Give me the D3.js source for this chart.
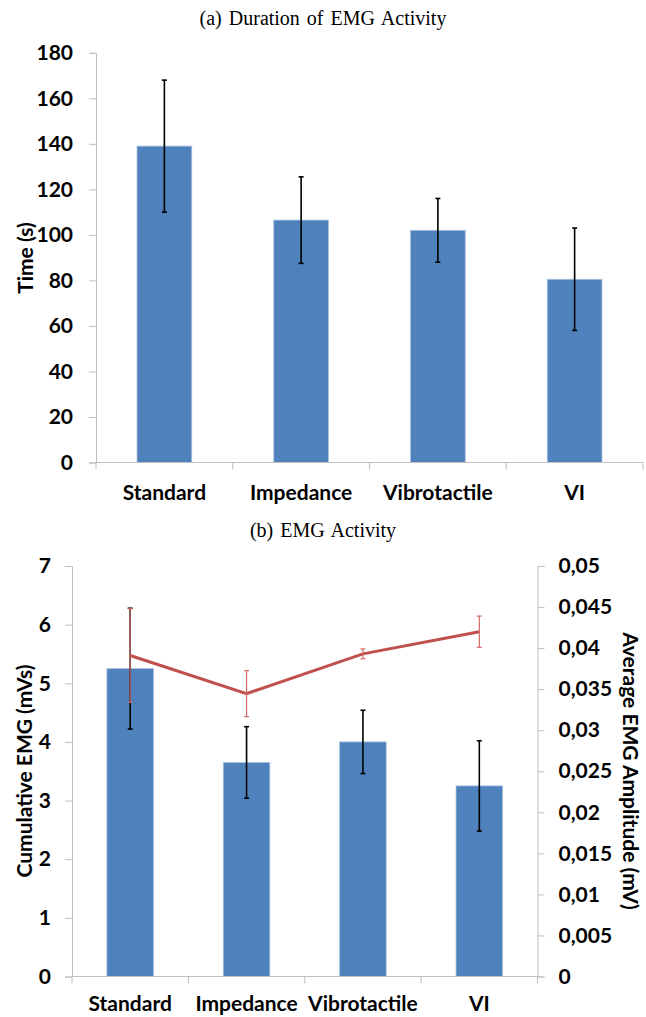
<!doctype html>
<html lang="en">
<head>
<meta charset="utf-8">
<title>EMG Activity</title>
<script src="https://cdn.jsdelivr.net/npm/d3@7"></script>
<style>
  body { margin: 0; background: #fff; }
  .caption { font-family: "Liberation Serif", "DejaVu Serif", serif; font-size: 20px; word-spacing: 2px; }
  .lbl { font-family: Lato, "Open Sans", sans-serif; font-weight: bold; font-size: 21px; fill: #000; }
  .axis path, .axis line { stroke: #bfbfbf; }
</style>
</head>
<body>
<script>
// data
var categories = ["Standard", "Impedance", "Vibrotactile", "VI"];

var durationMean = [139, 106.5, 102, 80.5];
var durationErr  = [29, 19, 14, 22.5];
var durationTicks = [0, 20, 40, 60, 80, 100, 120, 140, 160, 180];

var cumMean = [5.25, 3.65, 4.0, 3.25];
var cumErr  = [1.03, 0.61, 0.54, 0.77];
var cumTicks = [0, 1, 2, 3, 4, 5, 6, 7];

var ampMean = [0.0391, 0.03445, 0.0393, 0.0420];
var ampErr  = [0.0057, 0.0028, 0.0006, 0.0019];
var ampTicks = [0, 0.005, 0.01, 0.015, 0.02, 0.025, 0.03, 0.035, 0.04, 0.045, 0.05];

var blue = "#4f81bd", red = "#c0504d";

var svg = d3.select("body").append("svg")
    .attr("width", 646).attr("height", 1017);

function comma(v) { return String(+v.toFixed(4)).replace(".", ","); }

function errorBars(g, x, y, means, errs, color, width, cap) {
    var e = g.append("g").selectAll("g").data(means).enter().append("g")
        .attr("stroke", color).attr("stroke-width", width);
    e.append("line")
        .attr("x1", function(d, i){ return x(categories[i]) + x.bandwidth()/2; })
        .attr("x2", function(d, i){ return x(categories[i]) + x.bandwidth()/2; })
        .attr("y1", function(d, i){ return y(d + errs[i]); })
        .attr("y2", function(d, i){ return y(d - errs[i]); });
    [1, -1].forEach(function(s){
        e.append("line")
            .attr("x1", function(d, i){ return x(categories[i]) + x.bandwidth()/2 - cap; })
            .attr("x2", function(d, i){ return x(categories[i]) + x.bandwidth()/2 + cap; })
            .attr("y1", function(d, i){ return y(d + s*errs[i]); })
            .attr("y2", function(d, i){ return y(d + s*errs[i]); });
    });
}

function bars(g, x, y, means) {
    var bw = x.bandwidth() * 0.4;
    g.append("g").selectAll("rect").data(means).enter().append("rect")
        .attr("x", function(d, i){ return x(categories[i]) + (x.bandwidth() - bw)/2; })
        .attr("y", function(d){ return y(d); })
        .attr("width", bw)
        .attr("height", function(d){ return y(0) - y(d); })
        .attr("fill", blue)
        .attr("stroke", "#a7c0de").attr("stroke-width", 0.8);
}

function xAxis(g, x, y0, labelY) {
    var ax = g.append("g").attr("class", "axis");
    ax.append("line").attr("x1", x.range()[0]).attr("x2", x.range()[1])
        .attr("y1", y0).attr("y2", y0);
    ax.selectAll("line.t").data(d3.range(categories.length + 1)).enter().append("line")
        .attr("class", "t")
        .attr("x1", function(i){ return x.range()[0] + i * x.step(); })
        .attr("x2", function(i){ return x.range()[0] + i * x.step(); })
        .attr("y1", y0).attr("y2", y0 + 7);
    g.append("g").selectAll("text").data(categories).enter().append("text")
        .attr("class", "lbl")
        .attr("x", function(d){ return x(d) + x.bandwidth()/2; })
        .attr("y", labelY)
        .attr("text-anchor", "middle")
        .text(function(d){ return d; });
}

function styleAxis(sel) {
    sel.attr("class", "axis")
        .attr("font-family", "Lato, 'Open Sans', sans-serif")
        .attr("font-weight", "bold").attr("font-size", 21);
    sel.select(".domain").attr("stroke", "#bfbfbf");
    sel.selectAll(".tick line").attr("stroke", "#bfbfbf");
    sel.selectAll(".tick text").attr("class", "lbl").attr("font-weight", "bold");
}

// ---------- (a) Duration of EMG Activity ----------
svg.append("text").attr("class", "caption")
    .attr("x", 323).attr("y", 25).attr("text-anchor", "middle")
    .text("(a) Duration of EMG Activity");

var xa = d3.scaleBand().domain(categories).range([96, 643]);
var ya = d3.scaleLinear().domain([0, 180]).range([462.5, 52.8]);

var ga = svg.append("g");
bars(ga, xa, ya, durationMean);
errorBars(ga, xa, ya, durationMean, durationErr, "#000", 1.6, 2.5);

ga.append("g").attr("transform", "translate(96,0)")
    .call(d3.axisLeft(ya).tickValues(durationTicks).tickFormat(d3.format("d")).tickSize(7).tickPadding(16))
    .call(styleAxis);
xAxis(ga, xa, 462.5, 500);

ga.append("text").attr("class", "lbl").attr("font-weight", "bold")
    .attr("transform", "translate(33,258) rotate(-90)")
    .attr("text-anchor", "middle").text("Time (s)");

// ---------- (b) EMG Activity ----------
svg.append("text").attr("class", "caption")
    .attr("x", 323).attr("y", 537).attr("text-anchor", "middle")
    .text("(b) EMG Activity");

var xb = d3.scaleBand().domain(categories).range([72, 537.5]);
var yb = d3.scaleLinear().domain([0, 7]).range([976.5, 566]);
var yr = d3.scaleLinear().domain([0, 0.05]).range([976.5, 566]);

var gb = svg.append("g");
bars(gb, xb, yb, cumMean);
errorBars(gb, xb, yb, cumMean, cumErr, "#000", 1.6, 2.5);

var line = d3.line()
    .x(function(d, i){ return xb(categories[i]) + xb.bandwidth()/2; })
    .y(function(d){ return yr(d); });
gb.append("path").datum(ampMean)
    .attr("d", line).attr("fill", "none")
    .attr("stroke", red).attr("stroke-width", 3);
errorBars(gb, xb, yr, ampMean, ampErr, "#d06a67", 1.2, 2.5);

gb.append("g").attr("transform", "translate(72,0)")
    .call(d3.axisLeft(yb).tickValues(cumTicks).tickFormat(d3.format("d")).tickSize(7).tickPadding(14))
    .call(styleAxis);
gb.append("g").attr("transform", "translate(537.5,0)")
    .call(d3.axisRight(yr).tickValues(ampTicks).tickFormat(comma).tickSize(7).tickPadding(14))
    .call(styleAxis);
xAxis(gb, xb, 976.5, 1011);

gb.append("text").attr("class", "lbl").attr("font-weight", "bold")
    .attr("transform", "translate(32,771) rotate(-90)")
    .attr("text-anchor", "middle").text("Cumulative EMG (mVs)");
gb.append("text").attr("class", "lbl").attr("font-weight", "bold")
    .attr("transform", "translate(623,771) rotate(90)")
    .attr("text-anchor", "middle").text("Average EMG Amplitude (mV)");
</script>
</body>
</html>
